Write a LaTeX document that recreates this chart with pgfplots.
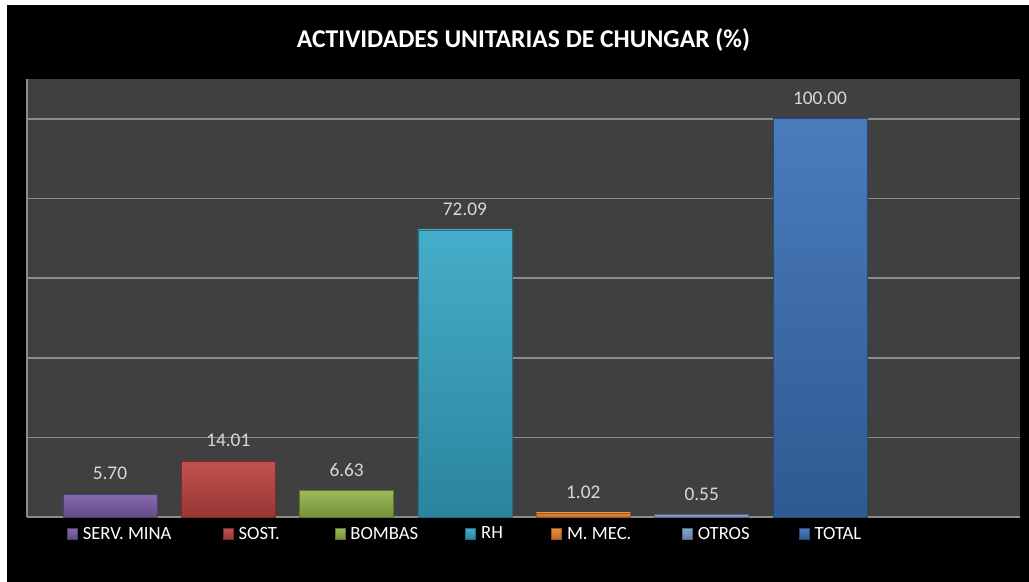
\documentclass[border=0pt]{standalone}
\usepackage{pgfplots}
\pgfplotsset{compat=1.18}
\usepackage{fontspec}
\setmainfont{Carlito}

\definecolor{plotbg}{HTML}{404040}
\definecolor{gridc}{HTML}{8C8C8C}
\definecolor{lblc}{HTML}{D9D9D9}
\definecolor{cserv}{HTML}{7B5EA7}
\definecolor{csost}{HTML}{BE4340}
\definecolor{cbomb}{HTML}{93B44A}
\definecolor{crh}{HTML}{35A6C5}
\definecolor{cmmec}{HTML}{E8842E}
\definecolor{cotros}{HTML}{7E9BC8}
\definecolor{ctotal}{HTML}{3A70B6}

\pgfplotsset{
  mybar/.style={ybar, bar width=70.5pt, bar shift=0pt,
    top color=#1!92!white, bottom color=#1!80!black,
    draw=#1!65!black, line width=0.6pt},
}

\begin{document}
\begin{tikzpicture}
% background (1 px of the reference = 0.75pt)
\fill[black] (0pt,0pt) rectangle (771.75pt,436.5pt);
\fill[white] (0pt,432.75pt) rectangle (771.75pt,436.5pt);
\fill[white] (0pt,0pt) rectangle (5.25pt,436.5pt);
\node[font=\bfseries\fontsize{19.2}{22}\selectfont, text=white]
  at (392.6pt,406.6pt) {ACTIVIDADES UNITARIAS DE CHUNGAR (\%)};

\begin{axis}[
    at={(20.25pt,48.75pt)}, anchor=south west,
    scale only axis, width=744.75pt, height=328.5pt,
    xmin=-0.701, xmax=7.690, ymin=0, ymax=110,
    axis background/.style={fill=plotbg},
    axis lines*=left,
    x axis line style={draw=none},
    y axis line style={draw=gridc, line width=1.2pt, -},
    xtick=\empty,
    ytick={0,20,...,100}, yticklabels={}, major tick length=0pt,
    ymajorgrids, grid style={draw=gridc, line width=1.2pt},
    clip=false,
    nodes near coords,
    point meta=y,
    nodes near coords style={font=\fontsize{14.5}{16}\selectfont, text=lblc,
      anchor=south, inner sep=0pt, yshift=10.5pt,
      /pgf/number format/.cd, fixed, fixed zerofill, precision=2,
      assume math mode=true},
    legend columns=7,
    legend image code/.code={\draw[#1] (0pt,-4pt) rectangle (7.5pt,4pt);},
    legend style={at={(0.0403,-0.0388)}, anchor=west, draw=none, fill=none,
      inner sep=0pt, outer sep=0pt, column sep=0pt,
      nodes={inner sep=0pt, text=white, font=\fontsize{14}{16}\selectfont}},
    legend cell align=left,
]
\addplot[mybar=cserv] coordinates {(0,5.70)};
\addlegendentry{\hspace{3.75pt}\makebox[105pt][l]{SERV. MINA}}
\addplot[mybar=csost] coordinates {(1,14.01)};
\addlegendentry{\hspace{3.75pt}\makebox[72pt][l]{SOST.}}
\addplot[mybar=cbomb] coordinates {(2,6.63)};
\addlegendentry{\hspace{3.75pt}\makebox[86.25pt][l]{BOMBAS}}
\addplot[mybar=crh] coordinates {(3,72.09)};
\addlegendentry{\hspace{3.75pt}\makebox[52.5pt][l]{RH}}
\addplot[mybar=cmmec] coordinates {(4,1.02)};
\addlegendentry{\hspace{3.75pt}\makebox[86.25pt][l]{M. MEC.}}
\addplot[mybar=cotros] coordinates {(5,0.55)};
\addlegendentry{\hspace{3.75pt}\makebox[75.75pt][l]{OTROS}}
\addplot[mybar=ctotal] coordinates {(6,100.00)};
\addlegendentry{\hspace{3.75pt}\makebox[45pt][l]{TOTAL}}
\end{axis}
\end{tikzpicture}
\end{document}
